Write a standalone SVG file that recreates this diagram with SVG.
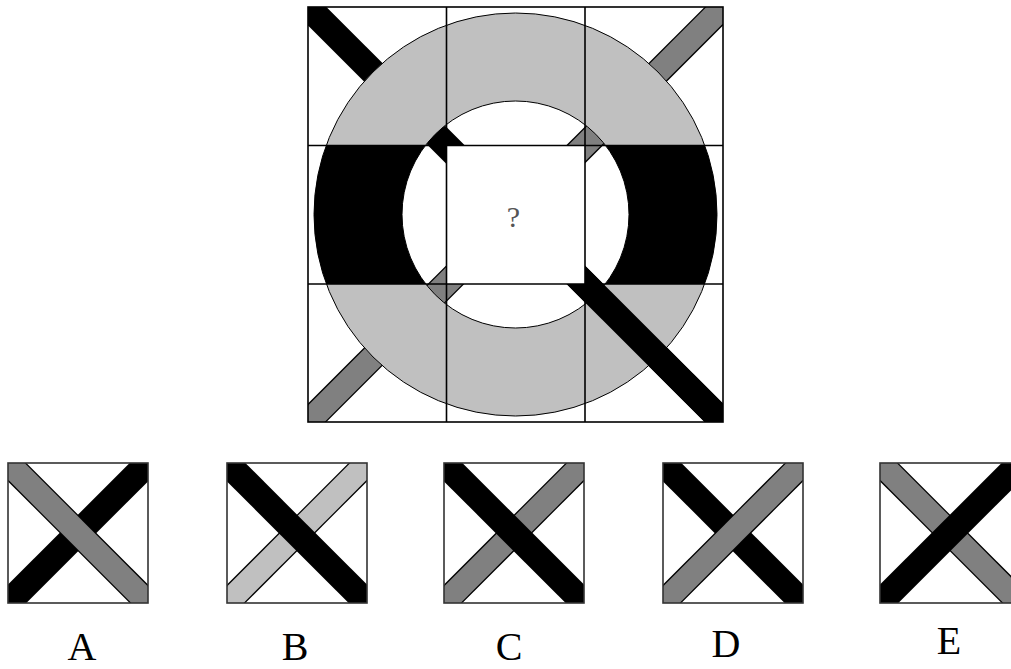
<svg xmlns="http://www.w3.org/2000/svg" width="1011" height="669" viewBox="0 0 1011 669">
<style>
.grid{fill:none;stroke:#000;stroke-width:1.6}
.box{fill:none;stroke:#333;stroke-width:1.6}
.blk{stroke:#000;stroke-width:26}
.edge{stroke:#000;stroke-width:26}
.dg{stroke:#808080;stroke-width:23.5}
.lg{stroke:#c0c0c0;stroke-width:23.5}
.lbl{font-family:"Liberation Serif","Times New Roman",serif;font-size:40px;fill:#000;text-anchor:middle}
</style>
<defs>
<clipPath id="gridclip"><rect x="308" y="7" width="415" height="415"/></clipPath>
<clipPath id="tb"><rect x="300" y="0" width="430" height="145.5"/><rect x="300" y="284" width="430" height="145"/></clipPath>
<clipPath id="mid"><rect x="300" y="145.5" width="430" height="138.5"/></clipPath>
<clipPath id="brc"><rect x="560" y="260" width="163" height="162"/></clipPath>
<clipPath id="box"><rect x="0" y="0" width="140" height="140"/></clipPath>
<path id="ring" d="M515.5 13 A201.5 201.5 0 1 1 515.5 416 A201.5 201.5 0 1 1 515.5 13 Z M515.5 101 A113.5 113.5 0 1 0 515.5 328 A113.5 113.5 0 1 0 515.5 101 Z"/>
</defs>
<rect width="1011" height="669" fill="#fff"/>
<g id="matrix">
<g clip-path="url(#gridclip)">
<line class="blk" x1="290" y1="-11" x2="741" y2="440"/>
<line class="edge" x1="741" y1="-11" x2="290" y2="440"/>
<line class="dg" x1="741" y1="-11" x2="290" y2="440"/>
</g>
<use href="#ring" fill="#c0c0c0" fill-rule="evenodd" clip-path="url(#tb)"/>
<use href="#ring" fill="#000" fill-rule="evenodd" clip-path="url(#mid)"/>
<circle cx="515.5" cy="214.5" r="201.5" fill="none" stroke="#000" stroke-width="1"/>
<circle cx="515.5" cy="214.5" r="113.5" fill="none" stroke="#000" stroke-width="1"/>
<g clip-path="url(#brc)">
<line class="blk" x1="290" y1="-11" x2="741" y2="440"/>
</g>
<rect x="446.5" y="145.5" width="138.5" height="138.5" fill="#fff"/>
<text x="513.5" y="227" font-family="Liberation Serif, serif" font-size="30" fill="#555" text-anchor="middle">?</text>
<rect class="grid" x="308" y="7" width="415" height="415"/>
<line class="grid" x1="446.5" y1="7" x2="446.5" y2="422"/>
<line class="grid" x1="585" y1="7" x2="585" y2="422"/>
<line class="grid" x1="308" y1="145.5" x2="723" y2="145.5"/>
<line class="grid" x1="308" y1="284" x2="723" y2="284"/>
</g>
<g id="optA" transform="translate(8,463)">
<g clip-path="url(#box)">
<line class="blk" x1="160" y1="-20" x2="-20" y2="160"/>
<line class="edge" x1="-20" y1="-20" x2="160" y2="160"/>
<line class="dg" x1="-20" y1="-20" x2="160" y2="160"/>
</g>
<rect class="box" x="0" y="0" width="140" height="140"/>
</g>
<g id="optB" transform="translate(227,463)">
<g clip-path="url(#box)">
<line class="edge" x1="160" y1="-20" x2="-20" y2="160"/>
<line class="lg" x1="160" y1="-20" x2="-20" y2="160"/>
<line class="blk" x1="-20" y1="-20" x2="160" y2="160"/>
</g>
<rect class="box" x="0" y="0" width="140" height="140"/>
</g>
<g id="optC" transform="translate(444,463)">
<g clip-path="url(#box)">
<line class="edge" x1="160" y1="-20" x2="-20" y2="160"/>
<line class="dg" x1="160" y1="-20" x2="-20" y2="160"/>
<line class="blk" x1="-20" y1="-20" x2="160" y2="160"/>
</g>
<rect class="box" x="0" y="0" width="140" height="140"/>
</g>
<g id="optD" transform="translate(663,463)">
<g clip-path="url(#box)">
<line class="blk" x1="-20" y1="-20" x2="160" y2="160"/>
<line class="edge" x1="160" y1="-20" x2="-20" y2="160"/>
<line class="dg" x1="160" y1="-20" x2="-20" y2="160"/>
</g>
<rect class="box" x="0" y="0" width="140" height="140"/>
</g>
<g id="optE" transform="translate(880,463)">
<g clip-path="url(#box)">
<line class="edge" x1="-20" y1="-20" x2="160" y2="160"/>
<line class="dg" x1="-20" y1="-20" x2="160" y2="160"/>
<line class="blk" x1="160" y1="-20" x2="-20" y2="160"/>
</g>
<rect class="box" x="0" y="0" width="140" height="140"/>
</g>
<g id="labels">
<text class="lbl" x="82" y="660">A</text>
<text class="lbl" x="295" y="660">B</text>
<text class="lbl" x="509" y="660">C</text>
<text class="lbl" x="726" y="657">D</text>
<text class="lbl" x="949" y="654">E</text>
</g>
</svg>
